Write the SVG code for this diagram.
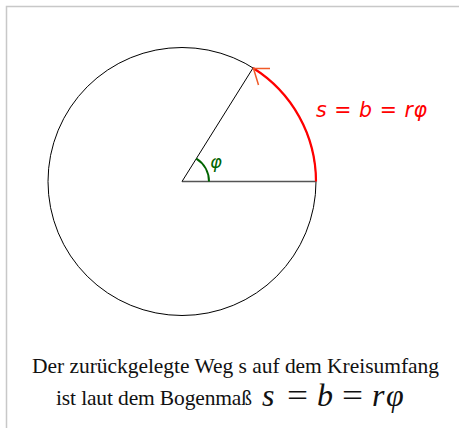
<svg xmlns="http://www.w3.org/2000/svg" width="459" height="428" viewBox="0 0 459 428">
<style>
.cap{font-family:"Liberation Serif",serif;font-size:21.5px;fill:#111}
.mi{font-family:"Liberation Serif",serif;font-style:italic;font-size:32px;fill:#111}
.mo{font-family:"Liberation Serif",serif;font-size:32px;fill:#111}
.lbl{font-family:"DejaVu Sans",sans-serif;font-style:oblique}
</style>
<rect x="0" y="0" width="459" height="428" fill="#fff"/>
<path d="M6.5 428 V6.5 H459" fill="none" stroke="#c8c8c8" stroke-width="1.5"/>
<g id="circle"><circle cx="182" cy="181.5" r="134" fill="none" stroke="#000" stroke-width="1"/></g>
<g id="connectors">
<line x1="182" y1="181.5" x2="316" y2="181.5" stroke="#555" stroke-width="1.5"/>
<line x1="182" y1="181.5" x2="253" y2="68" stroke="#000" stroke-width="1"/>
<path d="M316 181.5 A134 134 0 0 0 253 68" fill="none" stroke="#f00" stroke-width="2.2"/>
<path d="M270 68.5 H253.5 L258.5 85" fill="none" stroke="#f05a28" stroke-width="1.5"/>
<path d="M209 181.5 A27 27 0 0 0 196.3 158.6" fill="none" stroke="#006400" stroke-width="2"/>
</g>
<g id="labels">
<text class="lbl" x="210" y="168" font-size="18" fill="#006400">φ</text>
<text class="lbl" x="316" y="117" font-size="20.5" fill="#f00" textLength="111" lengthAdjust="spacing">s = b = rφ</text>
</g>
<g id="caption">
<text class="cap" x="32" y="373" textLength="407" lengthAdjust="spacing">Der zurückgelegte Weg s auf dem Kreisumfang</text>
<text class="cap" x="56" y="405" textLength="196" lengthAdjust="spacing">ist laut dem Bogenmaß</text>
<text class="mi" x="262" y="406">s</text>
<text class="mo" x="287" y="406" textLength="21" lengthAdjust="spacingAndGlyphs">=</text>
<text class="mi" x="317" y="406">b</text>
<text class="mo" x="342" y="406" textLength="21" lengthAdjust="spacingAndGlyphs">=</text>
<text class="mi" x="372" y="406">r</text>
<text class="mi" x="386" y="406">φ</text>
</g>
</svg>
